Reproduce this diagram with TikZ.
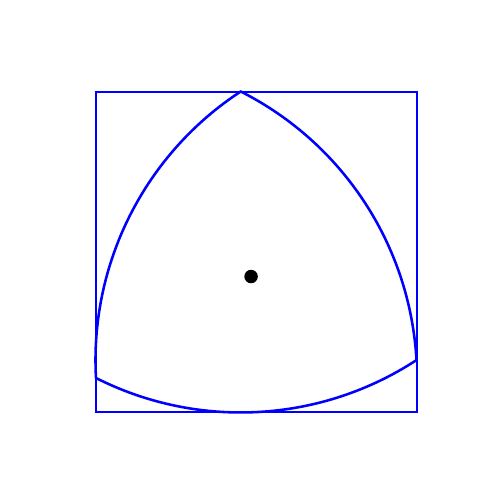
\documentclass[tikz,border=0pt]{standalone}
\usepackage{tikz}
\usetikzlibrary{calc}
\definecolor{RLBlue}{HTML}{0000FF}

\begin{document}
\begin{tikzpicture}[
  x=0.2mm, y=0.2mm,
  frame/.style={draw=RLBlue, line width=1.45pt},
  curve/.style={draw=RLBlue, line width=1.45pt, line join=round},
  centre/.style={circle, fill=black, inner sep=0pt, minimum size=2.7mm},
]
\useasboundingbox (0,0) rectangle (500,500);
\coordinate (sqA) at (96,88);
\coordinate (sqB) at (417,408);
\coordinate (vB) at (96,122);
\coordinate (vR) at ($(vB)+(3.2:321)$);
\coordinate (vT) at ($(vB)+(63.2:321)$);
\node[centre] (ctr) at ($1/3*(vB)+1/3*(vR)+1/3*(vT)$) {};
\draw[frame] (sqA) rectangle (sqB);
\draw[curve] (vT) arc[start angle=123.2, end angle=183.2, radius=321]
  arc[start angle=243.2, end angle=303.2, radius=321]
  arc[start angle=3.2, end angle=63.2, radius=321] -- cycle;
\end{tikzpicture}
\end{document}
